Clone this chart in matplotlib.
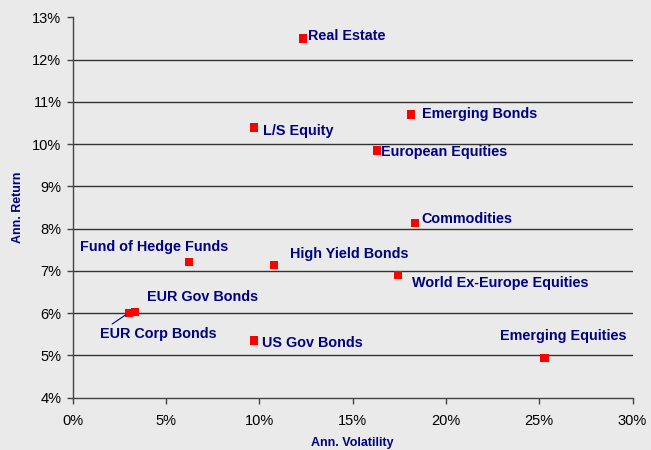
import matplotlib
matplotlib.use("Agg")
import matplotlib.pyplot as plt
from matplotlib.ticker import FuncFormatter

# Asset classes: annualised volatility and return (%)
assets = ["Real Estate", "Emerging Bonds", "L/S Equity", "European Equities",
          "Commodities", "Fund of Hedge Funds", "High Yield Bonds",
          "World Ex-Europe Equities", "EUR Gov Bonds", "EUR Corp Bonds",
          "US Gov Bonds", "Emerging Equities"]
volatility = [12.34, 18.12, 9.72, 16.30, 18.34, 6.24, 10.79, 17.43, 3.35, 3.02, 9.72, 25.29]
ann_return = [12.50, 10.70, 10.39, 9.85, 8.14, 7.21, 7.14, 6.91, 6.02, 6.01, 5.35, 4.94]

# label offsets in pixels (left edge of text, vertical centre)
offsets = {
    "Real Estate": (5, 2),
    "Emerging Bonds": (11, 1),
    "L/S Equity": (9, -3),
    "European Equities": (4, -2),
    "Commodities": (7, 4),
    "Fund of Hedge Funds": (-109, 15),
    "High Yield Bonds": (16, 11),
    "World Ex-Europe Equities": (14, -8),
    "EUR Gov Bonds": (12, 15),
    "EUR Corp Bonds": (-29, -21),
    "US Gov Bonds": (8, -2),
    "Emerging Equities": (-45, 22),
}

bg = "#EAEAEA"
navy = "#000080"
plt.rcParams["font.family"] = ["Liberation Sans", "DejaVu Sans"]

fig = plt.figure(figsize=(6.51, 4.5), dpi=100, facecolor=bg)
ax = fig.add_axes([0.1114, 0.1162, 0.8602, 0.8454], facecolor=bg)

ax.set_xlim(0, 30)
ax.set_ylim(4, 13)
ax.set_xticks(range(0, 31, 5))
ax.set_yticks(range(4, 14))
pct = FuncFormatter(lambda v, p: f"{v:.0f}%")
ax.xaxis.set_major_formatter(pct)
ax.yaxis.set_major_formatter(pct)

for y in range(5, 13):
    ax.axhline(y, color="#333333", lw=1.0, zorder=1)

for s in ["top", "right"]:
    ax.spines[s].set_visible(False)
for s in ["left", "bottom"]:
    ax.spines[s].set_color("#444444")
    ax.spines[s].set_linewidth(1.0)
ax.tick_params(direction="out", length=4, color="#444444", labelsize=10.5,
               labelcolor="black", width=1.0)
ax.tick_params(axis="y", pad=4)
ax.tick_params(axis="x", pad=8)

ax.scatter(volatility, ann_return, marker="s", s=36, color="#FF0000",
           edgecolors="none", zorder=3, clip_on=False)

for name, x, y in zip(assets, volatility, ann_return):
    dx, dy = offsets[name]
    arrow = None
    if name == "EUR Corp Bonds":
        arrow = dict(arrowstyle="-", color=navy, lw=0.8,
                     shrinkA=0, shrinkB=3, relpos=(0.07, 1.0))
    ax.annotate(name, (x, y), xytext=(dx, dy), textcoords="offset pixels",
                ha="left", va="center", fontsize=10.4, fontweight="bold",
                color=navy, arrowprops=arrow, zorder=4)

ax.set_xlabel("Ann. Volatility", fontsize=9, fontweight="bold", color=navy, labelpad=6)
ax.set_ylabel("Ann. Return", fontsize=9, fontweight="bold", color=navy, labelpad=6)

fig.savefig("out.png", dpi=100, facecolor=bg)
